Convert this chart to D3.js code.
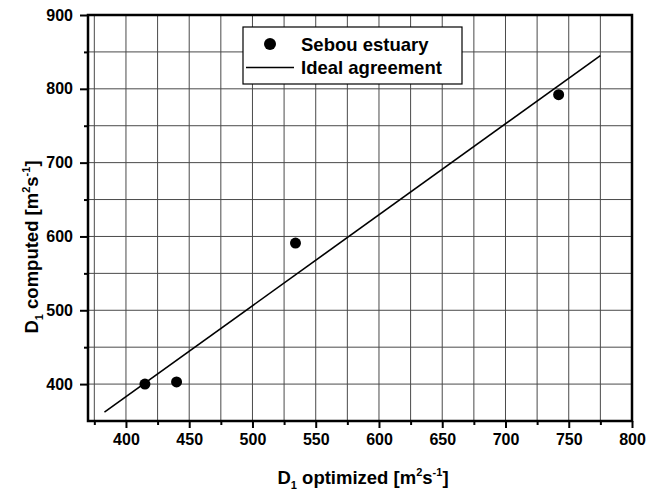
<!DOCTYPE html>
<html>
<head>
<meta charset="utf-8">
<script src="https://cdn.jsdelivr.net/npm/d3@7"></script>
<style>
  body { margin: 0; background: #fff; }
  text { font-family: "Liberation Sans", Arial, sans-serif; font-weight: bold; }
</style>
</head>
<body>
<svg id="chart" width="646" height="493"></svg>
<script>
// measured points (optimized vs computed D1)
const optimized = [415, 440, 534, 742];
const computed = [400, 403, 591, 792];
// ideal agreement line end points
const idealX = [383, 775];
const idealY = [362, 845];
const xTicks = [400, 450, 500, 550, 600, 650, 700, 750, 800];
const yTicks = [400, 500, 600, 700, 800, 900];

let margin = { top: 15, right: 14, bottom: 72, left: 88 };
let width = 646 - margin.left - margin.right;
let height = 493 - margin.top - margin.bottom;

let svg = d3.select('#chart');
let g = svg.append('g')
  .attr('transform', 'translate(' + margin.left + ',' + margin.top + ')');

let x = d3.scaleLinear().domain([370, 800]).range([0, width]);
let y = d3.scaleLinear().domain([350, 900]).range([height, 0]);

// grid
g.append('g').selectAll('line')
  .data(d3.range(375, 800, 25))
  .join('line')
  .attr('x1', d => x(d)).attr('x2', d => x(d))
  .attr('y1', 0).attr('y2', height)
  .attr('stroke', '#4a4a4a').attr('stroke-width', 1);
g.append('g').selectAll('line')
  .data(d3.range(400, 900, 50))
  .join('line')
  .attr('y1', d => y(d)).attr('y2', d => y(d))
  .attr('x1', 0).attr('x2', width)
  .attr('stroke', '#4a4a4a').attr('stroke-width', 1);

// axes
let xAxis = g.append('g')
  .attr('transform', 'translate(0,' + height + ')')
  .call(d3.axisBottom(x).tickValues(xTicks).tickSize(7).tickPadding(6));
let xMinor = g.append('g')
  .attr('transform', 'translate(0,' + height + ')')
  .call(d3.axisBottom(x).tickValues(d3.range(375, 800, 50)).tickSize(4).tickFormat(''));
let yAxis = g.append('g')
  .call(d3.axisLeft(y).tickValues(yTicks).tickSize(8).tickPadding(7));
let yMinor = g.append('g')
  .call(d3.axisLeft(y).tickValues(d3.range(350, 900, 100).filter(v => v > 350)).tickSize(4).tickFormat(''));

[xAxis, xMinor, yAxis, yMinor].forEach(a => {
  a.select('.domain').remove();
  a.selectAll('.tick line').attr('stroke', '#000').attr('stroke-width', 2);
  a.selectAll('.tick text').attr('font-size', 16).attr('fill', '#000')
    .attr('font-family', '"Liberation Sans", Arial, sans-serif').attr('font-weight', 'bold');
});

// frame
g.append('rect')
  .attr('x', 0).attr('y', 0).attr('width', width).attr('height', height)
  .attr('fill', 'none').attr('stroke', '#000').attr('stroke-width', 2.5);

// ideal line
let line = d3.line().x(d => x(d[0])).y(d => y(d[1]));
g.append('path')
  .datum(idealX.map((v, i) => [v, idealY[i]]))
  .attr('fill', 'none').attr('stroke', '#000').attr('stroke-width', 1.6)
  .attr('d', line);

// points
g.selectAll('circle.pt')
  .data(optimized.map((v, i) => [v, computed[i]]))
  .join('circle')
  .attr('class', 'pt')
  .attr('cx', d => x(d[0])).attr('cy', d => y(d[1]))
  .attr('r', 5.5).attr('fill', '#000');

// legend
let leg = svg.append('g');
leg.append('rect')
  .attr('x', 243).attr('y', 27).attr('width', 219).attr('height', 57)
  .attr('fill', '#fff').attr('stroke', '#000').attr('stroke-width', 1.2);
leg.append('circle').attr('cx', 270).attr('cy', 44).attr('r', 6).attr('fill', '#000');
leg.append('text').attr('x', 301).attr('y', 50.5).attr('font-size', 18.5).text('Sebou estuary');
leg.append('line').attr('x1', 246).attr('x2', 294).attr('y1', 67.5).attr('y2', 67.5)
  .attr('stroke', '#000').attr('stroke-width', 1.6);
leg.append('text').attr('x', 301).attr('y', 74).attr('font-size', 18.5).text('Ideal agreement');

// axis titles
function title(sel, label) {
  sel.append('tspan').text('D');
  sel.append('tspan').attr('font-size', 11).attr('dy', 5).text('1');
  sel.append('tspan').attr('dy', -5).text(' ' + label + ' [m');
  sel.append('tspan').attr('font-size', 11).attr('dy', -8).text('2');
  sel.append('tspan').attr('dy', 8).text('s');
  sel.append('tspan').attr('font-size', 11).attr('dy', -8).text('-1');
  sel.append('tspan').attr('dy', 8).text(']');
}
let xt = svg.append('text').attr('x', 363).attr('y', 484)
  .attr('text-anchor', 'middle').attr('font-size', 18.5);
title(xt, 'optimized');
let yt = svg.append('text')
  .attr('transform', 'translate(38,247) rotate(-90)')
  .attr('text-anchor', 'middle').attr('font-size', 18.5);
title(yt, 'computed');
</script>
</body>
</html>
